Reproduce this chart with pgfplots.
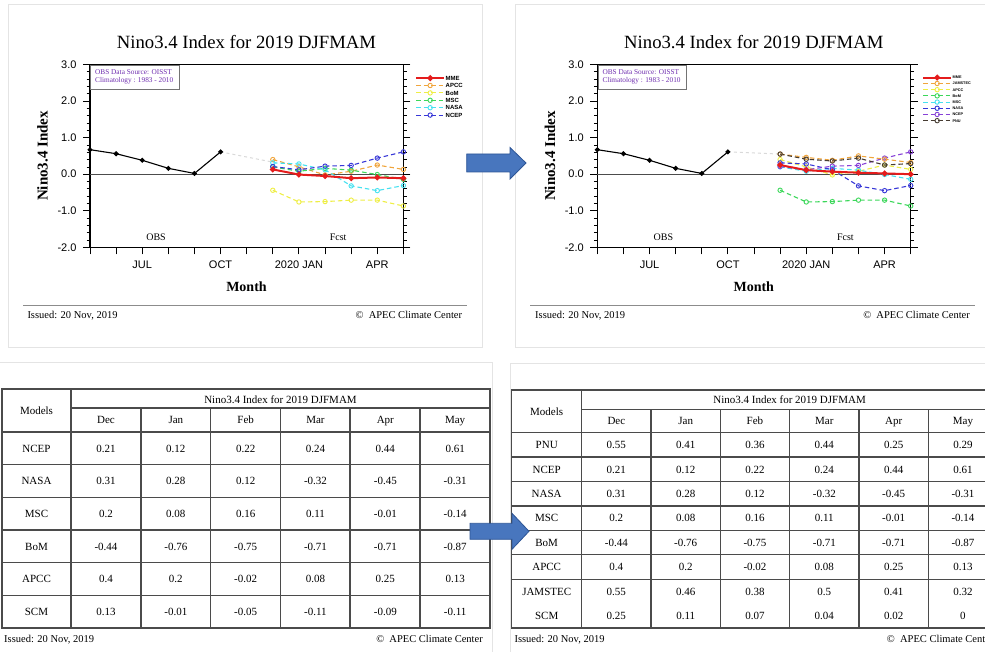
\documentclass[border=0pt]{standalone}
\usepackage{fontspec}
\setmainfont{Liberation Serif}
\setsansfont{Liberation Sans}
\usepackage{pgfplots}
\pgfplotsset{compat=1.18}

\definecolor{cMME}{RGB}{228,28,28}
\definecolor{cOrange}{RGB}{240,165,60}
\definecolor{cYellow}{RGB}{238,238,70}
\definecolor{cGreen}{RGB}{60,215,90}
\definecolor{cCyan}{RGB}{70,225,240}
\definecolor{cBlue}{RGB}{55,55,215}
\definecolor{cPurple}{RGB}{135,65,215}
\definecolor{cDark}{RGB}{70,60,50}
\definecolor{cInfo}{RGB}{110,45,175}
\definecolor{cArrow}{RGB}{72,118,190}
\definecolor{cArrowEdge}{RGB}{45,85,150}
\definecolor{cGrid}{RGB}{75,75,75}
\definecolor{cPanel}{RGB}{228,228,228}

\pgfplotsset{
  ninoaxis/.style={
    scale only axis, width=313.4pt, height=182.8pt, anchor=south west,
    xmin=0, xmax=12, ymin=-2, ymax=3,
    xtick={0,1,...,12},
    xticklabels={,,JUL,,,OCT,,,2020 JAN,,,APR,},
    ytick={-2,-1,0,1,2,3},
    minor y tick num=4,
    tick align=outside, xtick pos=left, ytick pos=both,
    major tick length=7pt, minor tick length=3.5pt,
    axis line style={line width=1.2pt},
    every tick/.append style={black, line width=1pt},
    every minor tick/.append style={line width=0.7pt},
    tick label style={font=\sffamily\fontsize{11}{12}\selectfont},
    xticklabel style={yshift=-3pt},
    yticklabel style={xshift=-3pt},
    /pgf/number format/assume math mode=true,
    yticklabel={\pgfmathprintnumber[fixed,fixed zerofill,precision=1]{\tick}},
    clip=false,
    legend cell align=left,
    legend image code/.code={\draw[mark repeat=2,mark phase=2,##1] plot coordinates {(0pt,0pt) (14pt,0pt) (28pt,0pt)};},
  },
  obs/.style={black, line width=1.1pt, mark=*, mark size=1.9pt},
  mdl/.style={line width=1.1pt, dash pattern=on 4.5pt off 3pt, mark=o, mark size=2.2pt, mark options={solid, line width=0.9pt}},
  mme/.style={cMME, line width=2pt, mark=*, mark size=1.8pt, mark options={solid}},
  zeroline/.style={forget plot, black!70, line width=1pt},
  bridge/.style={forget plot, black!15, line width=1pt, dash pattern=on 3pt off 3pt},
}

\begin{document}
\begin{tikzpicture}[x=1pt,y=-1pt]
\useasboundingbox (0,0) rectangle (985,652);
\clip (0,0) rectangle (985,652);

% ---------- panel frames ----------
\draw[cPanel, line width=1pt] (8,5) rectangle (482,347);
\draw[cPanel, line width=1pt] (515,5) rectangle (995,347);
\draw[cPanel, line width=1pt] (-5,362) rectangle (492,660);
\draw[cPanel, line width=1pt] (510,363) rectangle (995,660);

% ---------- left chart: six models ----------
\begin{axis}[ninoaxis, at={(90pt,-247.3pt)},
  legend style={draw=none, fill=none, at={(1.037,0.9415)}, anchor=north west,
    inner sep=0pt, row sep=2pt,
    font=\sffamily\bfseries\fontsize{6}{6}\selectfont,
    nodes={inner sep=0.5pt, text height=4.4pt, text depth=0pt}},
]
\addlegendimage{mme}\addlegendentry{MME}
\addlegendimage{mdl,cOrange}\addlegendentry{APCC}
\addlegendimage{mdl,cYellow}\addlegendentry{BoM}
\addlegendimage{mdl,cGreen}\addlegendentry{MSC}
\addlegendimage{mdl,cCyan}\addlegendentry{NASA}
\addlegendimage{mdl,cBlue}\addlegendentry{NCEP}
\addplot[zeroline] coordinates {(0,0) (12,0)};
\addplot[obs, forget plot] coordinates {(0,0.67) (1,0.56) (2,0.38) (3,0.16) (4,0.02) (5,0.61)};
\addplot[bridge] coordinates {(5,0.61) (7,0.33)};
\addplot[mdl, cYellow, forget plot] coordinates {(7,-0.44) (8,-0.76) (9,-0.75) (10,-0.71) (11,-0.71) (12,-0.87)};
\addplot[mdl, cOrange, forget plot] coordinates {(7,0.4) (8,0.2) (9,-0.02) (10,0.08) (11,0.25) (12,0.13)};
\addplot[mdl, cGreen, forget plot] coordinates {(7,0.2) (8,0.08) (9,0.16) (10,0.11) (11,-0.01) (12,-0.14)};
\addplot[mdl, cCyan, forget plot] coordinates {(7,0.31) (8,0.28) (9,0.12) (10,-0.32) (11,-0.45) (12,-0.31)};
\addplot[mdl, cBlue, forget plot] coordinates {(7,0.21) (8,0.12) (9,0.22) (10,0.24) (11,0.44) (12,0.61)};
\addplot[mme, forget plot] coordinates {(7,0.13) (8,-0.01) (9,-0.05) (10,-0.11) (11,-0.09) (12,-0.11)};
\node[anchor=base, font=\fontsize{10}{12}\selectfont] at (axis cs:2.53,-1.82) {OBS};
\node[anchor=base, font=\fontsize{10}{12}\selectfont] at (axis cs:9.5,-1.82) {Fcst};
\end{axis}

% ---------- right chart: eight models ----------
\begin{axis}[ninoaxis, at={(597.3pt,-247.3pt)},
  legend style={draw=none, fill=none, at={(1.036,0.940)}, anchor=north west,
    inner sep=0pt, row sep=1.8pt,
    font=\sffamily\bfseries\fontsize{3.8}{4}\selectfont,
    nodes={inner sep=0.5pt, text height=2.8pt, text depth=0pt}},
]
\addlegendimage{mme}\addlegendentry{MME}
\addlegendimage{mdl,cOrange}\addlegendentry{JAMSTEC}
\addlegendimage{mdl,cYellow}\addlegendentry{APCC}
\addlegendimage{mdl,cGreen}\addlegendentry{BoM}
\addlegendimage{mdl,cCyan}\addlegendentry{MSC}
\addlegendimage{mdl,cBlue}\addlegendentry{NASA}
\addlegendimage{mdl,cPurple}\addlegendentry{NCEP}
\addlegendimage{mdl,cDark}\addlegendentry{PNU}
\addplot[zeroline] coordinates {(0,0) (12,0)};
\addplot[obs, forget plot] coordinates {(0,0.67) (1,0.56) (2,0.38) (3,0.16) (4,0.02) (5,0.61)};
\addplot[bridge] coordinates {(5,0.61) (7,0.55)};
\addplot[mdl, cGreen, forget plot] coordinates {(7,-0.44) (8,-0.76) (9,-0.75) (10,-0.71) (11,-0.71) (12,-0.87)};
\addplot[mdl, cYellow, forget plot] coordinates {(7,0.4) (8,0.2) (9,-0.02) (10,0.08) (11,0.25) (12,0.13)};
\addplot[mdl, cCyan, forget plot] coordinates {(7,0.2) (8,0.08) (9,0.16) (10,0.11) (11,-0.01) (12,-0.14)};
\addplot[mdl, cBlue, forget plot] coordinates {(7,0.31) (8,0.28) (9,0.12) (10,-0.32) (11,-0.45) (12,-0.31)};
\addplot[mdl, cPurple, forget plot] coordinates {(7,0.21) (8,0.12) (9,0.22) (10,0.24) (11,0.44) (12,0.61)};
\addplot[mdl, cOrange, forget plot] coordinates {(7,0.55) (8,0.46) (9,0.38) (10,0.5) (11,0.41) (12,0.32)};
\addplot[mdl, cDark, forget plot] coordinates {(7,0.55) (8,0.41) (9,0.36) (10,0.44) (11,0.25) (12,0.29)};
\addplot[mme, forget plot] coordinates {(7,0.25) (8,0.11) (9,0.07) (10,0.04) (11,0.02) (12,0)};
\node[anchor=base, font=\fontsize{10}{12}\selectfont] at (axis cs:2.53,-1.82) {OBS};
\node[anchor=base, font=\fontsize{10}{12}\selectfont] at (axis cs:9.5,-1.82) {Fcst};
\end{axis}

% ---------- chart titles, labels and notes ----------
\foreach \ox/\cx in {0/246.5, 507.3/753.8} {
  \node[anchor=base, font=\fontsize{18.7}{20}\selectfont] at (\cx,48.3) {Nino3.4 Index for 2019 DJFMAM};
  \node[anchor=base, font=\bfseries\fontsize{14}{16}\selectfont] at (\cx,291.7) {Month};
  \node[anchor=base, rotate=90, font=\bfseries\fontsize{15}{17}\selectfont] at (47.7+\ox,155.9) {Nino3.4 Index};
  \draw[black!55, line width=0.9pt, fill=white] (90.8+\ox,65.1) rectangle (179+\ox,89);
  \node[anchor=base west, cInfo, font=\fontsize{7.3}{8}\selectfont, inner sep=0pt] at (95+\ox,74.3) {OBS Data Source: OISST};
  \node[anchor=base west, cInfo, font=\fontsize{7.3}{8}\selectfont, inner sep=0pt] at (95+\ox,82.6) {Climatology : 1983 - 2010};
}
\draw[black!45, line width=1.1pt] (23,305.7) -- (467,305.7);
\draw[black!45, line width=1.1pt] (530,305.7) -- (975,305.7);
\begin{scope}[font=\fontsize{10.5}{12}\selectfont, inner sep=0pt]
  \node[anchor=base west] at (27.3,318.5) {Issued: 20 Nov, 2019};
  \node[anchor=base east] at (462.3,318.5) {©\enspace APEC Climate Center};
  \node[anchor=base west] at (535,318.5) {Issued: 20 Nov, 2019};
  \node[anchor=base east] at (970,318.5) {©\enspace APEC Climate Center};
  \node[anchor=base west] at (4,642.3) {Issued: 20 Nov, 2019};
  \node[anchor=base east] at (483,642.3) {©\enspace APEC Climate Center};
  \node[anchor=base west] at (514.3,642.3) {Issued: 20 Nov, 2019};
  \node[anchor=base west] at (886.7,642.3) {©\enspace APEC Climate Center};
\end{scope}

% ---------- left table ----------
\begin{scope}[cGrid, line width=1.3pt]
  \draw (2,389) rectangle (490,628);
  \draw (71,389) -- (71,628);
  \draw (71,408) -- (490,408);
  \foreach \x in {141,210.7,280.3,350,420} \draw (\x,408) -- (\x,628);
  \foreach \y in {432,464.7,497.3,530,562.7,595.3} \draw (2,\y) -- (490,\y);
\end{scope}
\begin{scope}[font=\fontsize{11}{13}\selectfont]
  \node[anchor=base] at (36.5,414.5) {Models};
  \node[anchor=base] at (280.5,403) {Nino3.4 Index for 2019 DJFMAM};
  \foreach \m [count=\i from 0] in {Dec,Jan,Feb,Mar,Apr,May}
    \node[anchor=base] at ({106+69.83*\i},423.8) {\m};
  \foreach \n/\a/\b/\c/\d/\e/\f [count=\r from 0] in {
      NCEP/0.21/0.12/0.22/0.24/0.44/0.61,
      NASA/0.31/0.28/0.12/-0.32/-0.45/-0.31,
      MSC/0.2/0.08/0.16/0.11/-0.01/-0.14,
      BoM/-0.44/-0.76/-0.75/-0.71/-0.71/-0.87,
      APCC/0.4/0.2/-0.02/0.08/0.25/0.13,
      SCM/0.13/-0.01/-0.05/-0.11/-0.09/-0.11} {
    \node[anchor=base] at (36.5,{452.1+32.67*\r}) {\n};
    \foreach \v [count=\j from 0] in {\a,\b,\c,\d,\e,\f}
      \node[anchor=base] at ({106+69.83*\j},{452.1+32.67*\r}) {\v};
  }
\end{scope}

% ---------- right table ----------
\begin{scope}[cGrid, line width=1.3pt]
  \draw (511.7,390) rectangle (997.6,628);
  \draw (581.7,390) -- (581.7,628);
  \draw (581.7,409.3) -- (997.6,409.3);
  \foreach \x in {651,720.3,789.7,859,928.3} \draw (\x,409.3) -- (\x,628);
  \foreach \i in {0,...,6} \draw (511.7,{432.7+24.41*\i}) -- (997.6,{432.7+24.41*\i});
\end{scope}
\begin{scope}[font=\fontsize{11}{13}\selectfont]
  \node[anchor=base] at (546.7,415) {Models};
  \node[anchor=base] at (789.6,403.5) {Nino3.4 Index for 2019 DJFMAM};
  \foreach \m [count=\i from 0] in {Dec,Jan,Feb,Mar,Apr,May}
    \node[anchor=base] at ({616.35+69.32*\i},424.8) {\m};
  \foreach \n/\a/\b/\c/\d/\e/\f [count=\r from 0] in {
      PNU/0.55/0.41/0.36/0.44/0.25/0.29,
      NCEP/0.21/0.12/0.22/0.24/0.44/0.61,
      NASA/0.31/0.28/0.12/-0.32/-0.45/-0.31,
      MSC/0.2/0.08/0.16/0.11/-0.01/-0.14,
      BoM/-0.44/-0.76/-0.75/-0.71/-0.71/-0.87,
      APCC/0.4/0.2/-0.02/0.08/0.25/0.13,
      JAMSTEC/0.55/0.46/0.38/0.5/0.41/0.32,
      SCM/0.25/0.11/0.07/0.04/0.02/0} {
    \node[anchor=base] at (546.7,{448.7+24.41*\r}) {\n};
    \foreach \v [count=\j from 0] in {\a,\b,\c,\d,\e,\f}
      \node[anchor=base] at ({616.35+69.32*\j},{448.7+24.41*\r}) {\v};
  }
\end{scope}

% ---------- arrows ----------
\draw[fill=cArrow, draw=cArrowEdge, line width=0.8pt]
  (466.7,154) -- (510,154) -- (510,147.5) -- (526,163) -- (510,179) -- (510,172) -- (466.7,172) -- cycle;
\draw[fill=cArrow, draw=cArrowEdge, line width=0.8pt]
  (470,523.3) -- (512,523.3) -- (512,513.3) -- (529,531.3) -- (512,549.3) -- (512,539.3) -- (470,539.3) -- cycle;
\end{tikzpicture}
\end{document}
